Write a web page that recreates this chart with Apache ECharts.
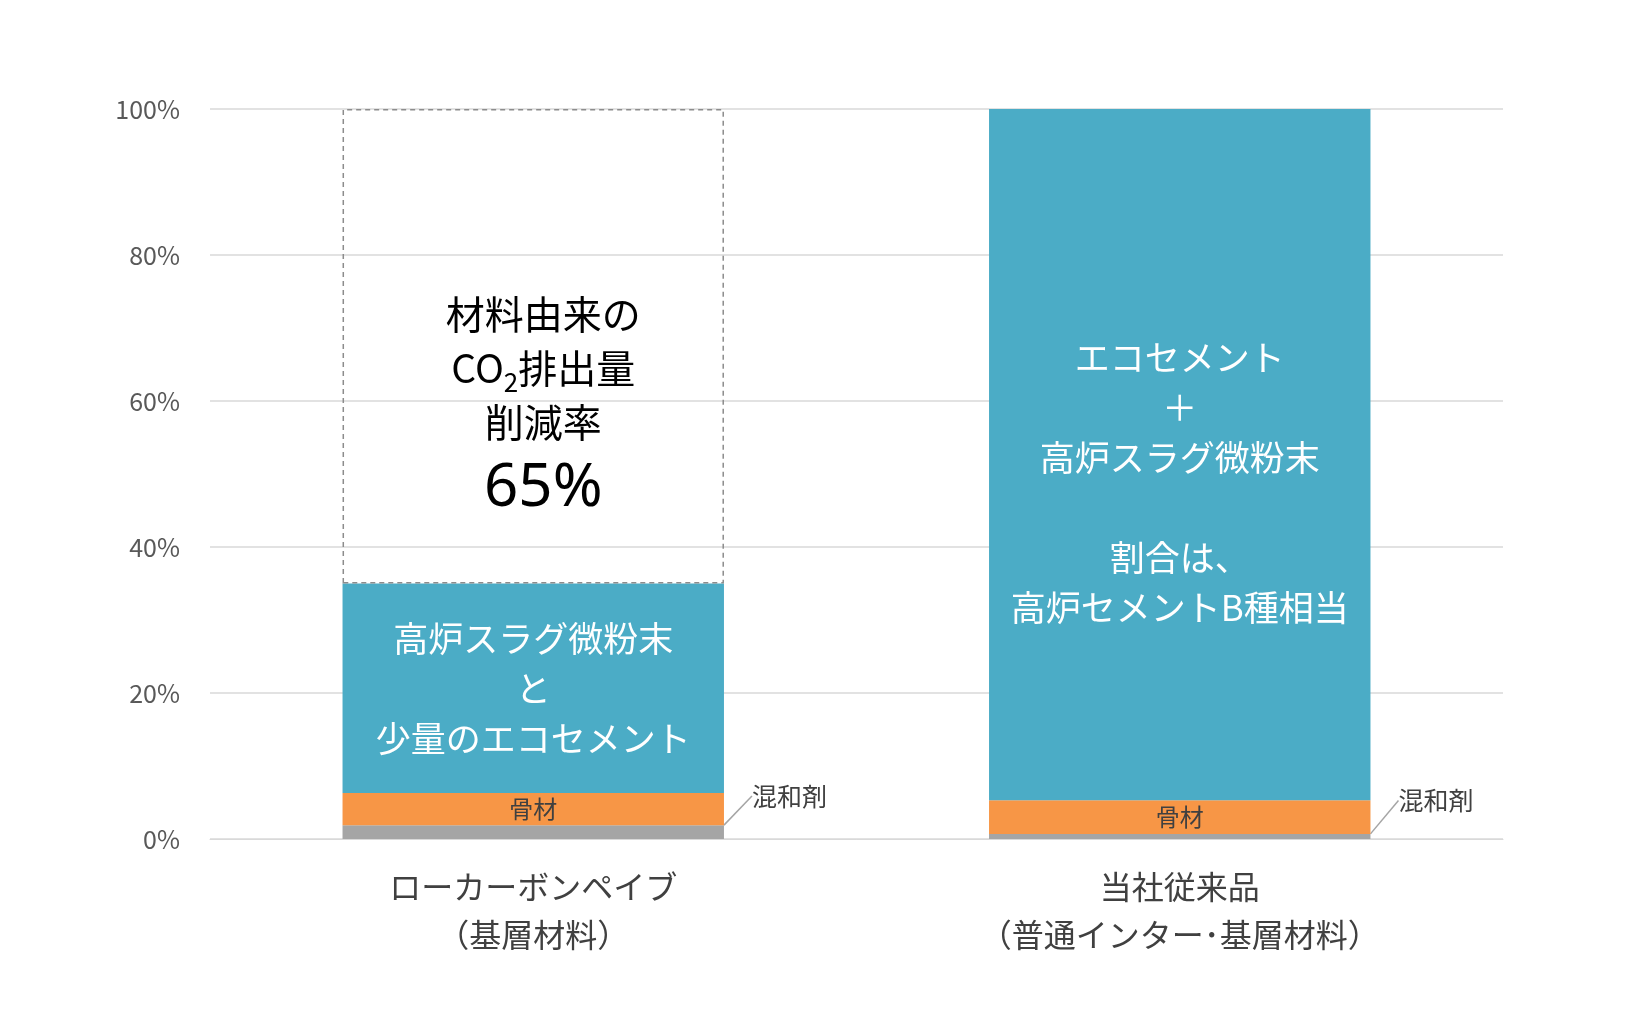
<!DOCTYPE html>
<html><head><meta charset="utf-8">
<script src="https://cdn.jsdelivr.net/npm/echarts@6/dist/echarts.min.js"></script>
<style>html,body{margin:0;background:#fff}#c{width:1640px;height:1014px}</style>
</head><body><div id="c"></div>
<script>
var categories = ['ローカーボンペイブ\n（基層材料）', '当社従来品\n（普通インター･基層材料）'];
var mixAgent = [1.9, 0.7];
var aggregate = [4.4, 4.6];
var binder = [28.7, 94.7];
var reduced = [65, '-'];
var binderText = ['高炉スラグ微粉末\nと\n少量のエコセメント', 'エコセメント\n＋\n高炉スラグ微粉末\n\n割合は、\n高炉セメントB種相当'];
var tickLabels = ['0%', '20%', '40%', '60%', '80%', '100%'];

var chart = echarts.init(document.getElementById('c'));
var font = '"Noto Sans CJK JP", "Noto Sans", sans-serif';
chart.setOption({
  backgroundColor: '#fff',
  textStyle: { fontFamily: font },
  grid: { left: 210, right: 137, top: 109, bottom: 175 },
  xAxis: {
    type: 'category', data: categories,
    axisLine: { lineStyle: { color: '#d9d9d9' } }, axisTick: { show: false },
    axisLabel: { fontSize: 32, color: '#404040', lineHeight: 48, margin: 24, fontFamily: font }
  },
  yAxis: {
    type: 'value', min: 0, max: 100, interval: 20,
    axisLabel: { fontSize: 25, color: '#595959', margin: 30, fontFamily: font,
      formatter: function (v) { return tickLabels[v / 20]; } },
    splitLine: { lineStyle: { color: '#d9d9d9', width: 1.5 } }
  },
  series: [
    { type: 'bar', stack: 's', data: mixAgent, barWidth: '59%', itemStyle: { color: '#a5a5a5' },
      label: { show: true, position: 'right', formatter: '混和剤', fontSize: 25, color: '#404040', distance: 0 },
      labelLayout: { dx: 28, dy: -36 },
      labelLine: { show: true, lineStyle: { color: '#a5a5a5', width: 1.5 } } },
    { type: 'bar', stack: 's', data: aggregate, itemStyle: { color: '#f79646' },
      label: { show: true, position: 'inside', formatter: '骨材', fontSize: 24, color: '#404040' } },
    { type: 'bar', stack: 's', data: binder, itemStyle: { color: '#4bacc6' },
      label: { show: true, position: 'inside', fontSize: 35, lineHeight: 50, color: '#fff',
        formatter: function (p) { return binderText[p.dataIndex]; },
        offset: [0, 0] } },
    { type: 'bar', stack: 's', data: reduced,
      itemStyle: { color: 'rgba(0,0,0,0)', borderColor: '#8c8c8c', borderWidth: 1.5, borderType: [5, 4] },
      label: { show: true, position: 'inside', color: '#000', offset: [10, 62],
        formatter: function (p) { return '{a|材料由来の}\n{a|CO}{s|2}{a|排出量}\n{a|削減率}\n{b|65%}'; },
        rich: { a: { fontSize: 39, lineHeight: 54, color: '#000', backgroundColor: '#fff' },
                s: { fontSize: 26, lineHeight: 54, verticalAlign: 'bottom', padding: [22, 0, 0, 0], backgroundColor: '#fff' },
                b: { fontSize: 60, lineHeight: 80, color: '#000', fontFamily: 'Noto Sans' } } } }
  ]
});
chart.setOption({ series: [{}, {}, { label: { offset: [0, 0] } }] });
chart.setOption({ series: [{}, {}, { data: [
  { value: binder[0] },
  { value: binder[1], label: { offset: [0, 28] } }
] }] });
</script></body></html>
